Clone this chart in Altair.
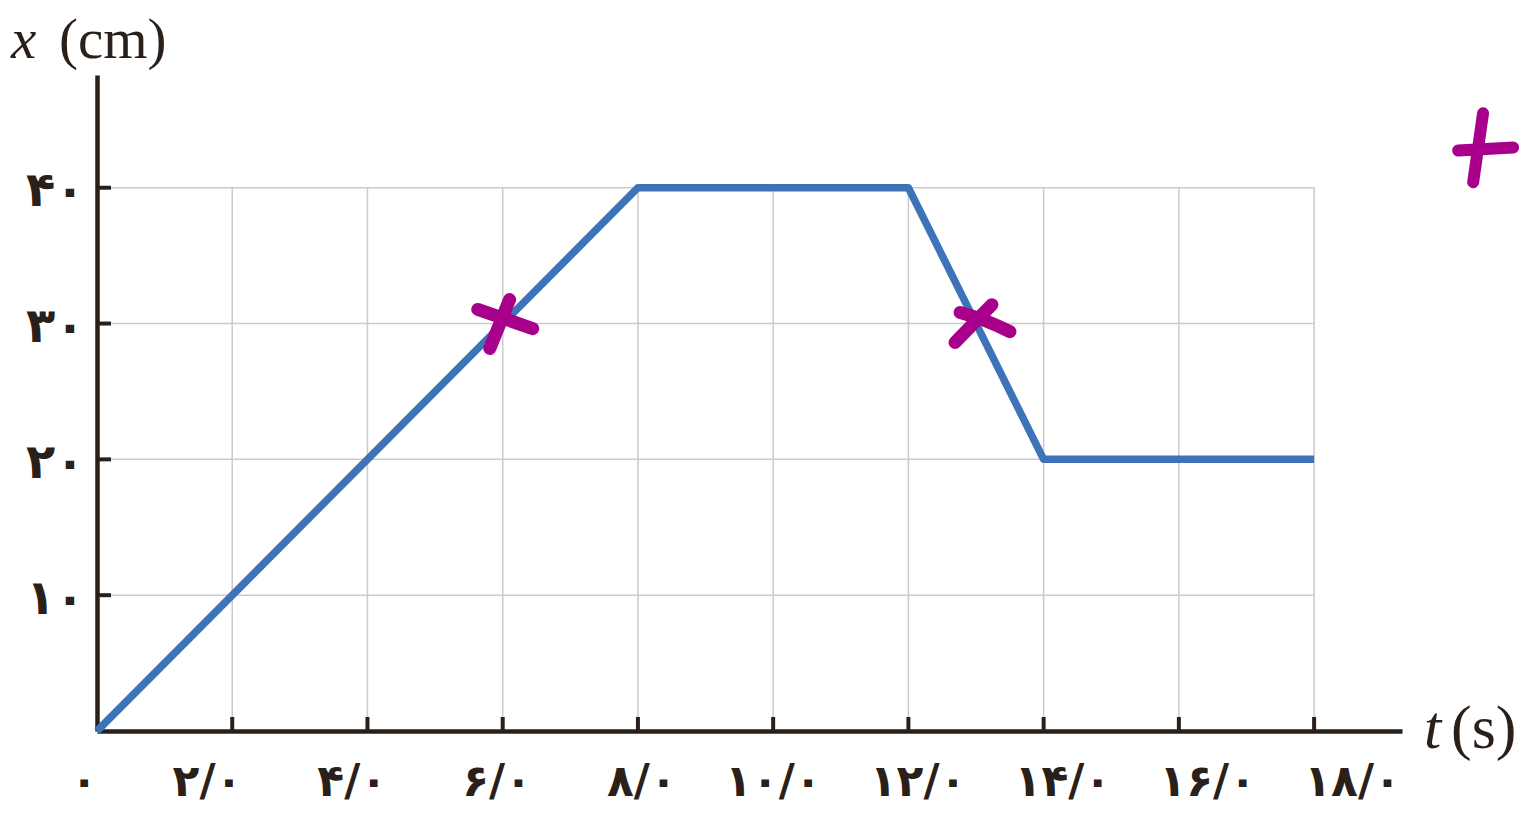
import json
import altair as alt
import pandas as pd

# ---- data ----
t_vals = [0, 8, 12, 14, 18]          # t (s)
x_vals = [0, 40, 40, 20, 20]          # x (cm)

t_ticks = [0, 2, 4, 6, 8, 10, 12, 14, 16, 18]
t_labels = ["۰", "۲/۰", "۴/۰", "۶/۰", "۸/۰", "۱۰/۰", "۱۲/۰", "۱۴/۰", "۱۶/۰", "۱۸/۰"]
x_ticks = [10, 20, 30, 40]
x_labels = ["۱۰", "۲۰", "۳۰", "۴۰"]

# hand-drawn magenta marks (two crosses on the curve, a plus and a dot at the right edge)
mark_t = [6, 13]
mark_x = [30, 30]
plus_t = [20.53]
plus_x = [42.9]
dot_t = [21.17]
dot_x = [41.3]

INK = "#2b1f19"
BLUE = "#3d74b7"
MAGENTA = "#a8008b"
GRID = "#cbcbcb"

X_DOMAIN = [0, 19.3]
Y_DOMAIN = [0, 48.3]
W, H = 1305, 656

line_df = pd.DataFrame({"t": t_vals, "x": x_vals})
vgrid_df = pd.DataFrame({"t": t_ticks[1:]})
hgrid_df = pd.DataFrame({"x": x_ticks})

xs = alt.Scale(domain=X_DOMAIN, nice=False, zero=False)
ys = alt.Scale(domain=Y_DOMAIN, nice=False, zero=False)

t_lab_expr = f"{json.dumps(t_labels)}[indexof({json.dumps(t_ticks)}, datum.value)]"
x_lab_expr = f"{json.dumps(x_labels)}[indexof({json.dumps(x_ticks)}, datum.value)]"

LABEL_FONT = "DejaVu Sans"
x_axis = alt.Axis(
    values=t_ticks, labelExpr=t_lab_expr, title=None, grid=False, ticks=False, tickSize=0,
    domain=True, domainColor=INK, domainWidth=4.5,
    labelFont=LABEL_FONT, labelFontWeight="bold", labelFontSize=44, labelColor=INK,
    labelAlign="right", labelBaseline="top", labelPadding=29,
    labelOffset=alt.ExprRef("0 + 4.79*datum.value"),
    labelOverlap=False, labelFlush=False, labelBound=False,
)
y_axis = alt.Axis(
    values=x_ticks, labelExpr=x_lab_expr, title=None, grid=False, ticks=False, tickSize=0,
    domain=True, domainColor=INK, domainWidth=4.5,
    labelFont=LABEL_FONT, labelFontWeight="bold", labelFontSize=48, labelColor=INK,
    labelAlign="right", labelBaseline="middle", labelPadding=13, labelOffset=4,
    labelOverlap=False, labelFlush=False, labelBound=False,
)

base_x = alt.X("t:Q", scale=xs, axis=x_axis)
base_y = alt.Y("x:Q", scale=ys, axis=y_axis)

vgrid = alt.Chart(vgrid_df).mark_rule(color=GRID, strokeWidth=1.5).encode(
    x=alt.X("t:Q", scale=xs, axis=x_axis),
    y=alt.datum(0, scale=ys),
    y2=alt.datum(40),
)
hgrid = alt.Chart(hgrid_df).mark_rule(color=GRID, strokeWidth=1.5).encode(
    y=alt.Y("x:Q", scale=ys, axis=y_axis),
    x=alt.datum(0, scale=xs),
    x2=alt.datum(18),
)

xticks = alt.Chart(vgrid_df).mark_tick(
    color=INK, orient="vertical", size=14, thickness=4, yOffset=-7, opacity=1
).encode(x=alt.X("t:Q", scale=xs), y=alt.datum(0, scale=ys))
yticks = alt.Chart(hgrid_df).mark_tick(
    color=INK, orient="horizontal", size=14, thickness=4, xOffset=7, opacity=1
).encode(y=alt.Y("x:Q", scale=ys), x=alt.datum(0, scale=xs))

curve = alt.Chart(line_df).mark_line(
    color=BLUE, strokeWidth=7.5, strokeJoin="round", strokeCap="butt"
).encode(x=base_x, y=base_y)

cross1 = alt.Chart(pd.DataFrame({"t": mark_t[:1], "x": mark_x[:1]})).mark_point(
    shape="M-0.83,-0.47L1,0.17M0.23,-0.8L-0.43,0.83", size=3600, filled=False,
    stroke=MAGENTA, strokeWidth=13, strokeCap="round", opacity=1
).encode(x=alt.X("t:Q", scale=xs), y=alt.Y("x:Q", scale=ys))
cross2 = alt.Chart(pd.DataFrame({"t": mark_t[1:], "x": mark_x[1:]})).mark_point(
    shape="M-0.53,-0.37Q0.3,-0.15 1.13,0.27M0.53,-0.63L-0.7,0.63", size=3600, filled=False,
    stroke=MAGENTA, strokeWidth=13, strokeCap="round", opacity=1
).encode(x=alt.X("t:Q", scale=xs), y=alt.Y("x:Q", scale=ys))
plus = alt.Chart(pd.DataFrame({"t": plus_t, "x": plus_x})).mark_point(
    shape="M-0.07,-1.17L-0.4,1.13M-0.9,0.07L0.93,-0.03", size=3600, filled=False,
    stroke=MAGENTA, strokeWidth=12, strokeCap="round", opacity=1
).encode(x=alt.X("t:Q", scale=xs), y=alt.Y("x:Q", scale=ys))
dot = alt.Chart(pd.DataFrame({"t": dot_t, "x": dot_x})).mark_circle(
    color=MAGENTA, size=110, opacity=1
).encode(x=alt.X("t:Q", scale=xs), y=alt.Y("x:Q", scale=ys))

one = alt.Data(values=[{}])
SERIF = "Liberation Serif"
TS = 57
ylab_var = alt.Chart(one).mark_text(
    text="x", font=SERIF, fontStyle="italic", fontSize=TS, color=INK, align="left", baseline="alphabetic"
).encode(x=alt.value(-86), y=alt.value(-17))
ylab_unit = alt.Chart(one).mark_text(
    text="(cm)", font=SERIF, fontSize=TS, color=INK, align="left", baseline="alphabetic"
).encode(x=alt.value(-38), y=alt.value(-17))
xlab_var = alt.Chart(one).mark_text(
    text="t", font=SERIF, fontStyle="italic", fontSize=62, color=INK, align="left", baseline="alphabetic"
).encode(x=alt.value(1327), y=alt.value(673))
xlab_unit = alt.Chart(one).mark_text(
    text="(s)", font=SERIF, fontSize=62, color=INK, align="left", baseline="alphabetic"
).encode(x=alt.value(1354), y=alt.value(673))

chart = alt.layer(
    vgrid, hgrid, curve, xticks, yticks, cross1, cross2, plus, dot,
    ylab_var, ylab_unit, xlab_var, xlab_unit,
).properties(
    width=W, height=H,
    autosize=alt.AutoSizeParams(type="none"),
    padding={"left": 89, "top": 67, "right": 117, "bottom": 74},
    background="white",
).configure_view(stroke=None)

chart.save("out.html", embed_options={"renderer": "svg", "actions": False})
